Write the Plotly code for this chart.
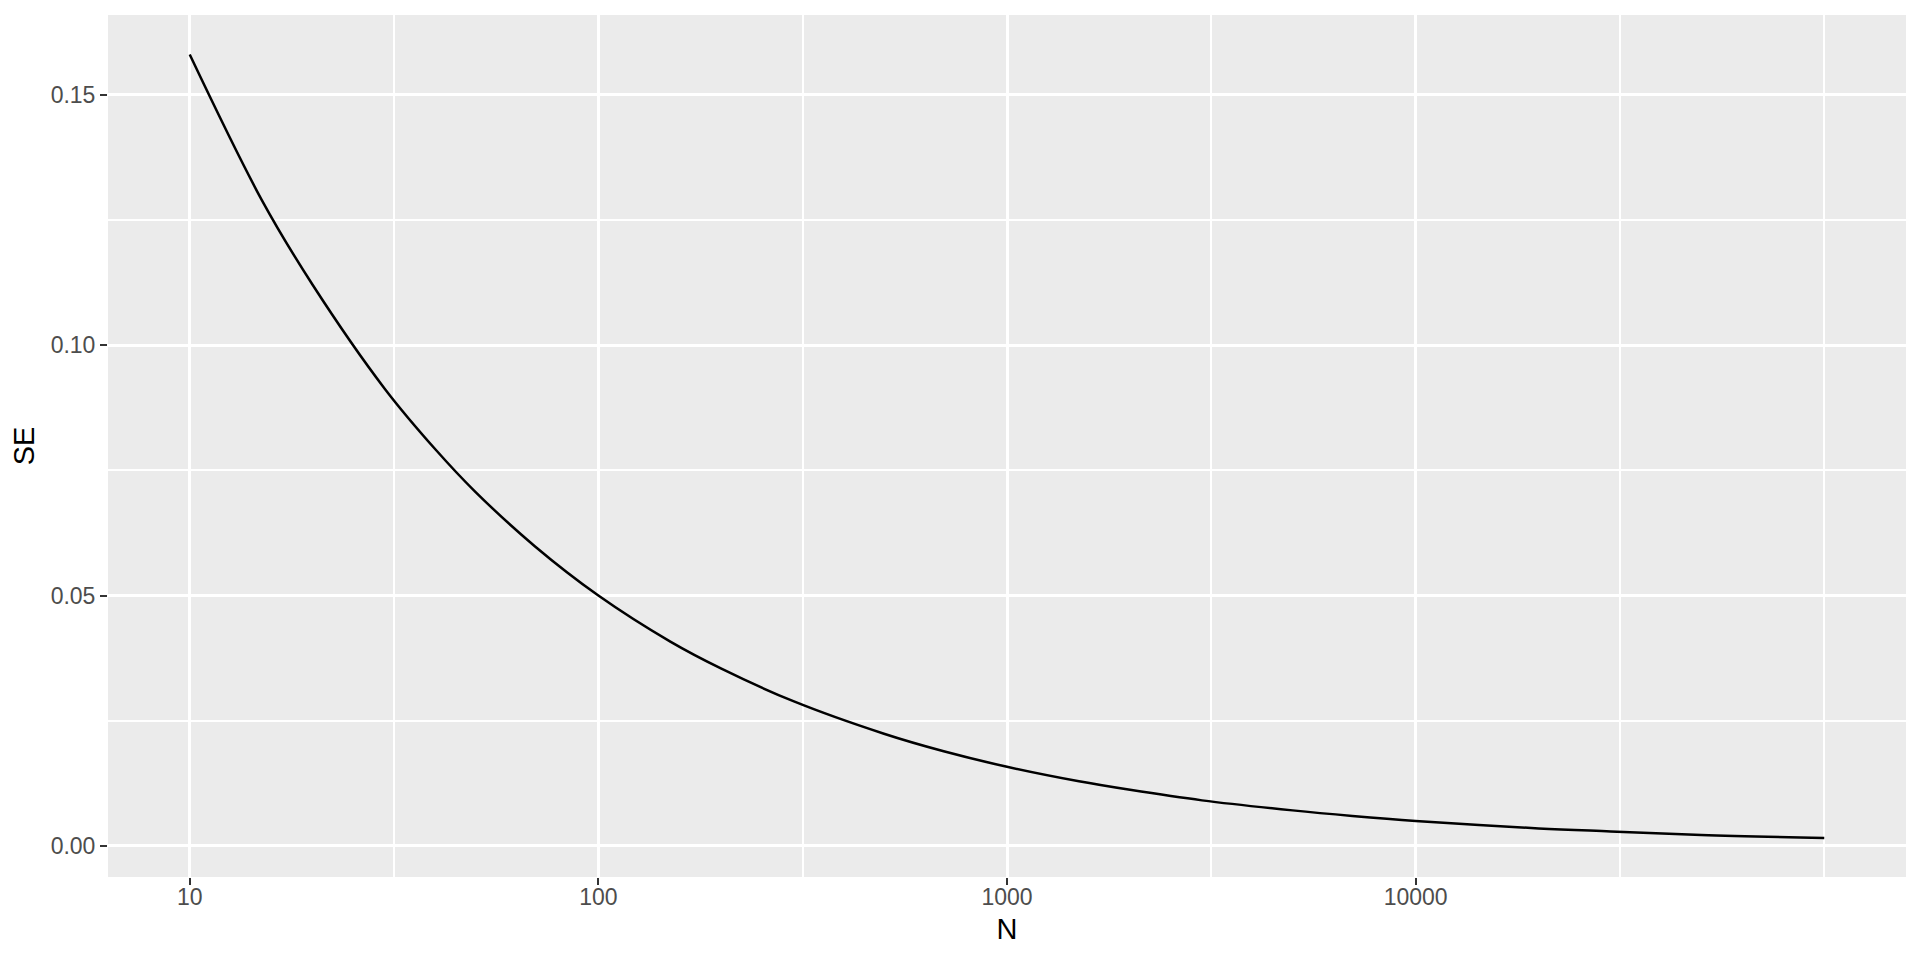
import plotly.graph_objects as go

# Values
N = [10, 15, 20, 30, 40, 50, 70, 100, 150, 200, 300, 500, 700, 1000,
     1500, 2000, 3000, 5000, 7000, 10000, 20000, 30000, 50000, 100000]
SE = [0.158, 0.129, 0.112, 0.0913, 0.0791, 0.0707, 0.0598, 0.0500, 0.0408,
      0.0354, 0.0289, 0.0224, 0.0189, 0.0158, 0.0129, 0.0112, 0.0091,
      0.0071, 0.0060, 0.0050, 0.0035, 0.0029, 0.0022, 0.0016]

x_ticks = [10, 100, 1000, 10000]
x_ticklabels = ["10", "100", "1000", "10000"]
x_minor = [10**1.5, 10**2.5, 10**3.5, 10**4.5, 10**5]
y_ticks = [0.00, 0.05, 0.10, 0.15]
y_ticklabels = ["0.00", "0.05", "0.10", "0.15"]
y_minor = [0.025, 0.075, 0.125]

fig = go.Figure()
fig.add_trace(go.Scatter(x=N, y=SE, mode="lines",
                         line=dict(color="black", width=2.5, shape="spline"),
                         showlegend=False))

font = "Liberation Sans, Arial, sans-serif"
fig.update_layout(
    width=1920, height=960,
    paper_bgcolor="white", plot_bgcolor="#EBEBEB",
    margin=dict(l=100, r=22, t=7, b=91),
    font=dict(family=font),
)
fig.update_xaxes(
    type="log", range=[0.8, 5.2],
    tickmode="array", tickvals=x_ticks, ticktext=x_ticklabels,
    ticks="outside", ticklen=7, tickwidth=2.2, tickcolor="#333333",
    tickfont=dict(size=23, color="#4D4D4D"), ticklabelstandoff=-8,
    showgrid=True, gridcolor="white", gridwidth=3,
    zeroline=False, showline=False,
    minor=dict(tickmode="array", tickvals=x_minor, showgrid=True,
               gridcolor="white", gridwidth=1.5, ticklen=0),
    title=dict(text="N", font=dict(size=29, color="black"), standoff=10),
)
fig.update_yaxes(
    range=[-0.0062, 0.1659],
    tickmode="array", tickvals=y_ticks, ticktext=y_ticklabels,
    ticks="outside", ticklen=7, tickwidth=2.2, tickcolor="#333333",
    tickfont=dict(size=23, color="#4D4D4D"),
    showgrid=True, gridcolor="white", gridwidth=3,
    zeroline=False, showline=False,
    minor=dict(tickmode="array", tickvals=y_minor, showgrid=True,
               gridcolor="white", gridwidth=1.5, ticklen=0),
    title=dict(text="SE", font=dict(size=29, color="black"), standoff=8),
)

fig.write_html("out.html")
